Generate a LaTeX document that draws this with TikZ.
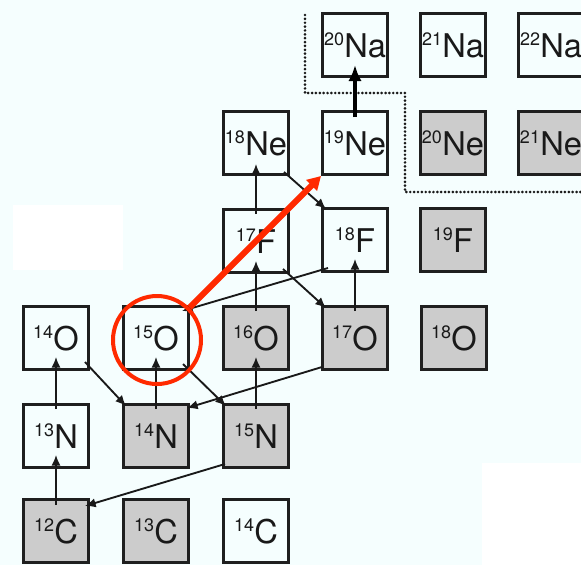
\documentclass[tikz,border=0pt]{standalone}
\usepackage{fontspec}
\setmainfont{TeX Gyre Heros}
\usetikzlibrary{arrows.meta,calc}
\definecolor{bgcyan}{HTML}{F5FEFE}
\definecolor{stablegray}{HTML}{CCCCCC}
\definecolor{hired}{HTML}{FF2A00}
% isotope label: small mass number, large element symbol
\newcommand{\iso}[2]{\raisebox{9pt}{\fontsize{13.5}{13.5}\selectfont #1}\kern0.2pt{\fontsize{24.5}{24.5}\selectfont #2}}

\begin{document}
\begin{tikzpicture}[x=0.75pt,y=-0.75pt,
  nuc/.style={draw=black!88, line width=2pt, minimum width=49pt,
              minimum height=47.5pt, inner sep=0pt, text=black!90},
  stable/.style={nuc, fill=stablegray},
  flow/.style={line width=1.4pt, draw=black!90,
               -{Latex[length=8pt,width=7pt]}},
  bigflow/.style={line width=3.2pt, draw=black,
               -{Latex[length=12pt,width=10pt]}},
  border/.style={line width=2.2pt, draw=black!90, line cap=round,
               dash pattern=on 0pt off 2.9pt},
  ring/.style={circle, draw=hired, line width=3pt, minimum size=66pt, inner sep=0pt},
  hot/.style={line width=4.5pt, draw=hired,
               -{Triangle[length=10pt,width=11pt]}}]

% canvas
\fill[bgcyan] (0,0) rectangle (581,565);
\useasboundingbox (0,0) rectangle (581,565);
\clip (0,0) rectangle (581,565);
\fill[white] (13,205) rectangle (123,270);
\fill[white] (482,463) rectangle (581,565);

% breakout boundary
\draw[border] (305,15) -- (305,93) -- (405,93) -- (405,192) -- (581,192);

% carbon
\node[stable] (c12) at (56,531) {\iso{12}{C}};
\node[stable] (c13) at (156,531) {\iso{13}{C}};
\node[nuc]    (c14) at (256,531) {\iso{14}{C}};
% nitrogen
\node[nuc]    (n13) at (56,436) {\iso{13}{N}};
\node[stable] (n14) at (156,436) {\iso{14}{N}};
\node[stable] (n15) at (256,436) {\iso{15}{N}};
% oxygen
\node[nuc]    (o14) at (56,338) {\iso{14}{O}};
\node[nuc]    (o15) at (156,338) {\iso{15}{O}};
\node[stable] (o16) at (256,338) {\iso{16}{O}};
\node[stable] (o17) at (355,338) {\iso{17}{O}};
\node[stable] (o18) at (454,338) {\iso{18}{O}};
% fluorine
\node[nuc]    (f17) at (256,241) {\iso{17}{F}};
\node[nuc]    (f18) at (355,240) {\iso{18}{F}};
\node[stable] (f19) at (453,240) {\iso{19}{F}};
% neon
\node[nuc]    (ne18) at (256,143) {\iso{18}{Ne}};
\node[nuc]    (ne19) at (355,143) {\iso{19}{Ne}};
\node[stable] (ne20) at (453,143) {\iso{20}{Ne}};
\node[stable] (ne21) at (551,143) {\iso{21}{Ne}};
% sodium
\node[nuc]    (na20) at (355,45) {\iso{20}{Na}};
\node[nuc]    (na21) at (453,45) {\iso{21}{Na}};
\node[nuc]    (na22) at (551,45) {\iso{22}{Na}};

% proton captures (vertical)
\draw[flow] ($(c12.north)+(0,7)$) -- ($(n13.south)+(0,-14)$);
\draw[flow] ($(n13.north)+(0,6)$) -- ($(o14.south)+(0,-14)$);
\draw[flow] ($(n14.north)+(0,6)$) -- ($(o15.south)+(0,-14)$);
\draw[flow] ($(n15.north)+(0,6)$) -- ($(o16.south)+(0,-14)$);
\draw[flow] ($(o16.north)+(0,6)$) -- ($(f17.south)+(0,-13)$);
\draw[flow] ($(o17.north)+(0,6)$) -- ($(f18.south)+(0,-14)$);
\draw[flow] ($(f17.north)+(0,6)$) -- ($(ne18.south)+(0,-12)$);
\draw[bigflow] ($(ne19.north)+(0,7)$) -- ($(na20.south)+(0,-13)$);

% beta decays (diagonal)
\draw[flow] ($(o14.south east)+(-5,-9)$) -- ($(n14.north west)+(4,3)$);
\draw[flow] ($(o15.south east)+(-7,-7)$) -- ($(n15.north west)+(4,3)$);
\draw[flow] ($(f17.south east)+(-7,-5)$) -- ($(o17.north west)+(5,3)$);
\draw[flow] ($(ne18.south east)+(-6,-4)$) -- ($(f18.north west)+(5,2)$);

% (p,alpha) reactions
\draw[flow] ($(n15.south west)+(3,-5)$) -- ($(c12.north east)+(-5,8)$);
\draw[flow] ($(o17.south west)+(1,-4)$) -- ($(n14.north east)+(-3,5)$);
\draw[flow] ($(f18.south west)+(7,-5)$) -- ($(o15.north east)+(-8,6)$);

% breakout path
\node[ring] (focus) at (157,340) {};
\draw[hot] (focus) -- (ne19.south west);

\end{tikzpicture}
\end{document}
